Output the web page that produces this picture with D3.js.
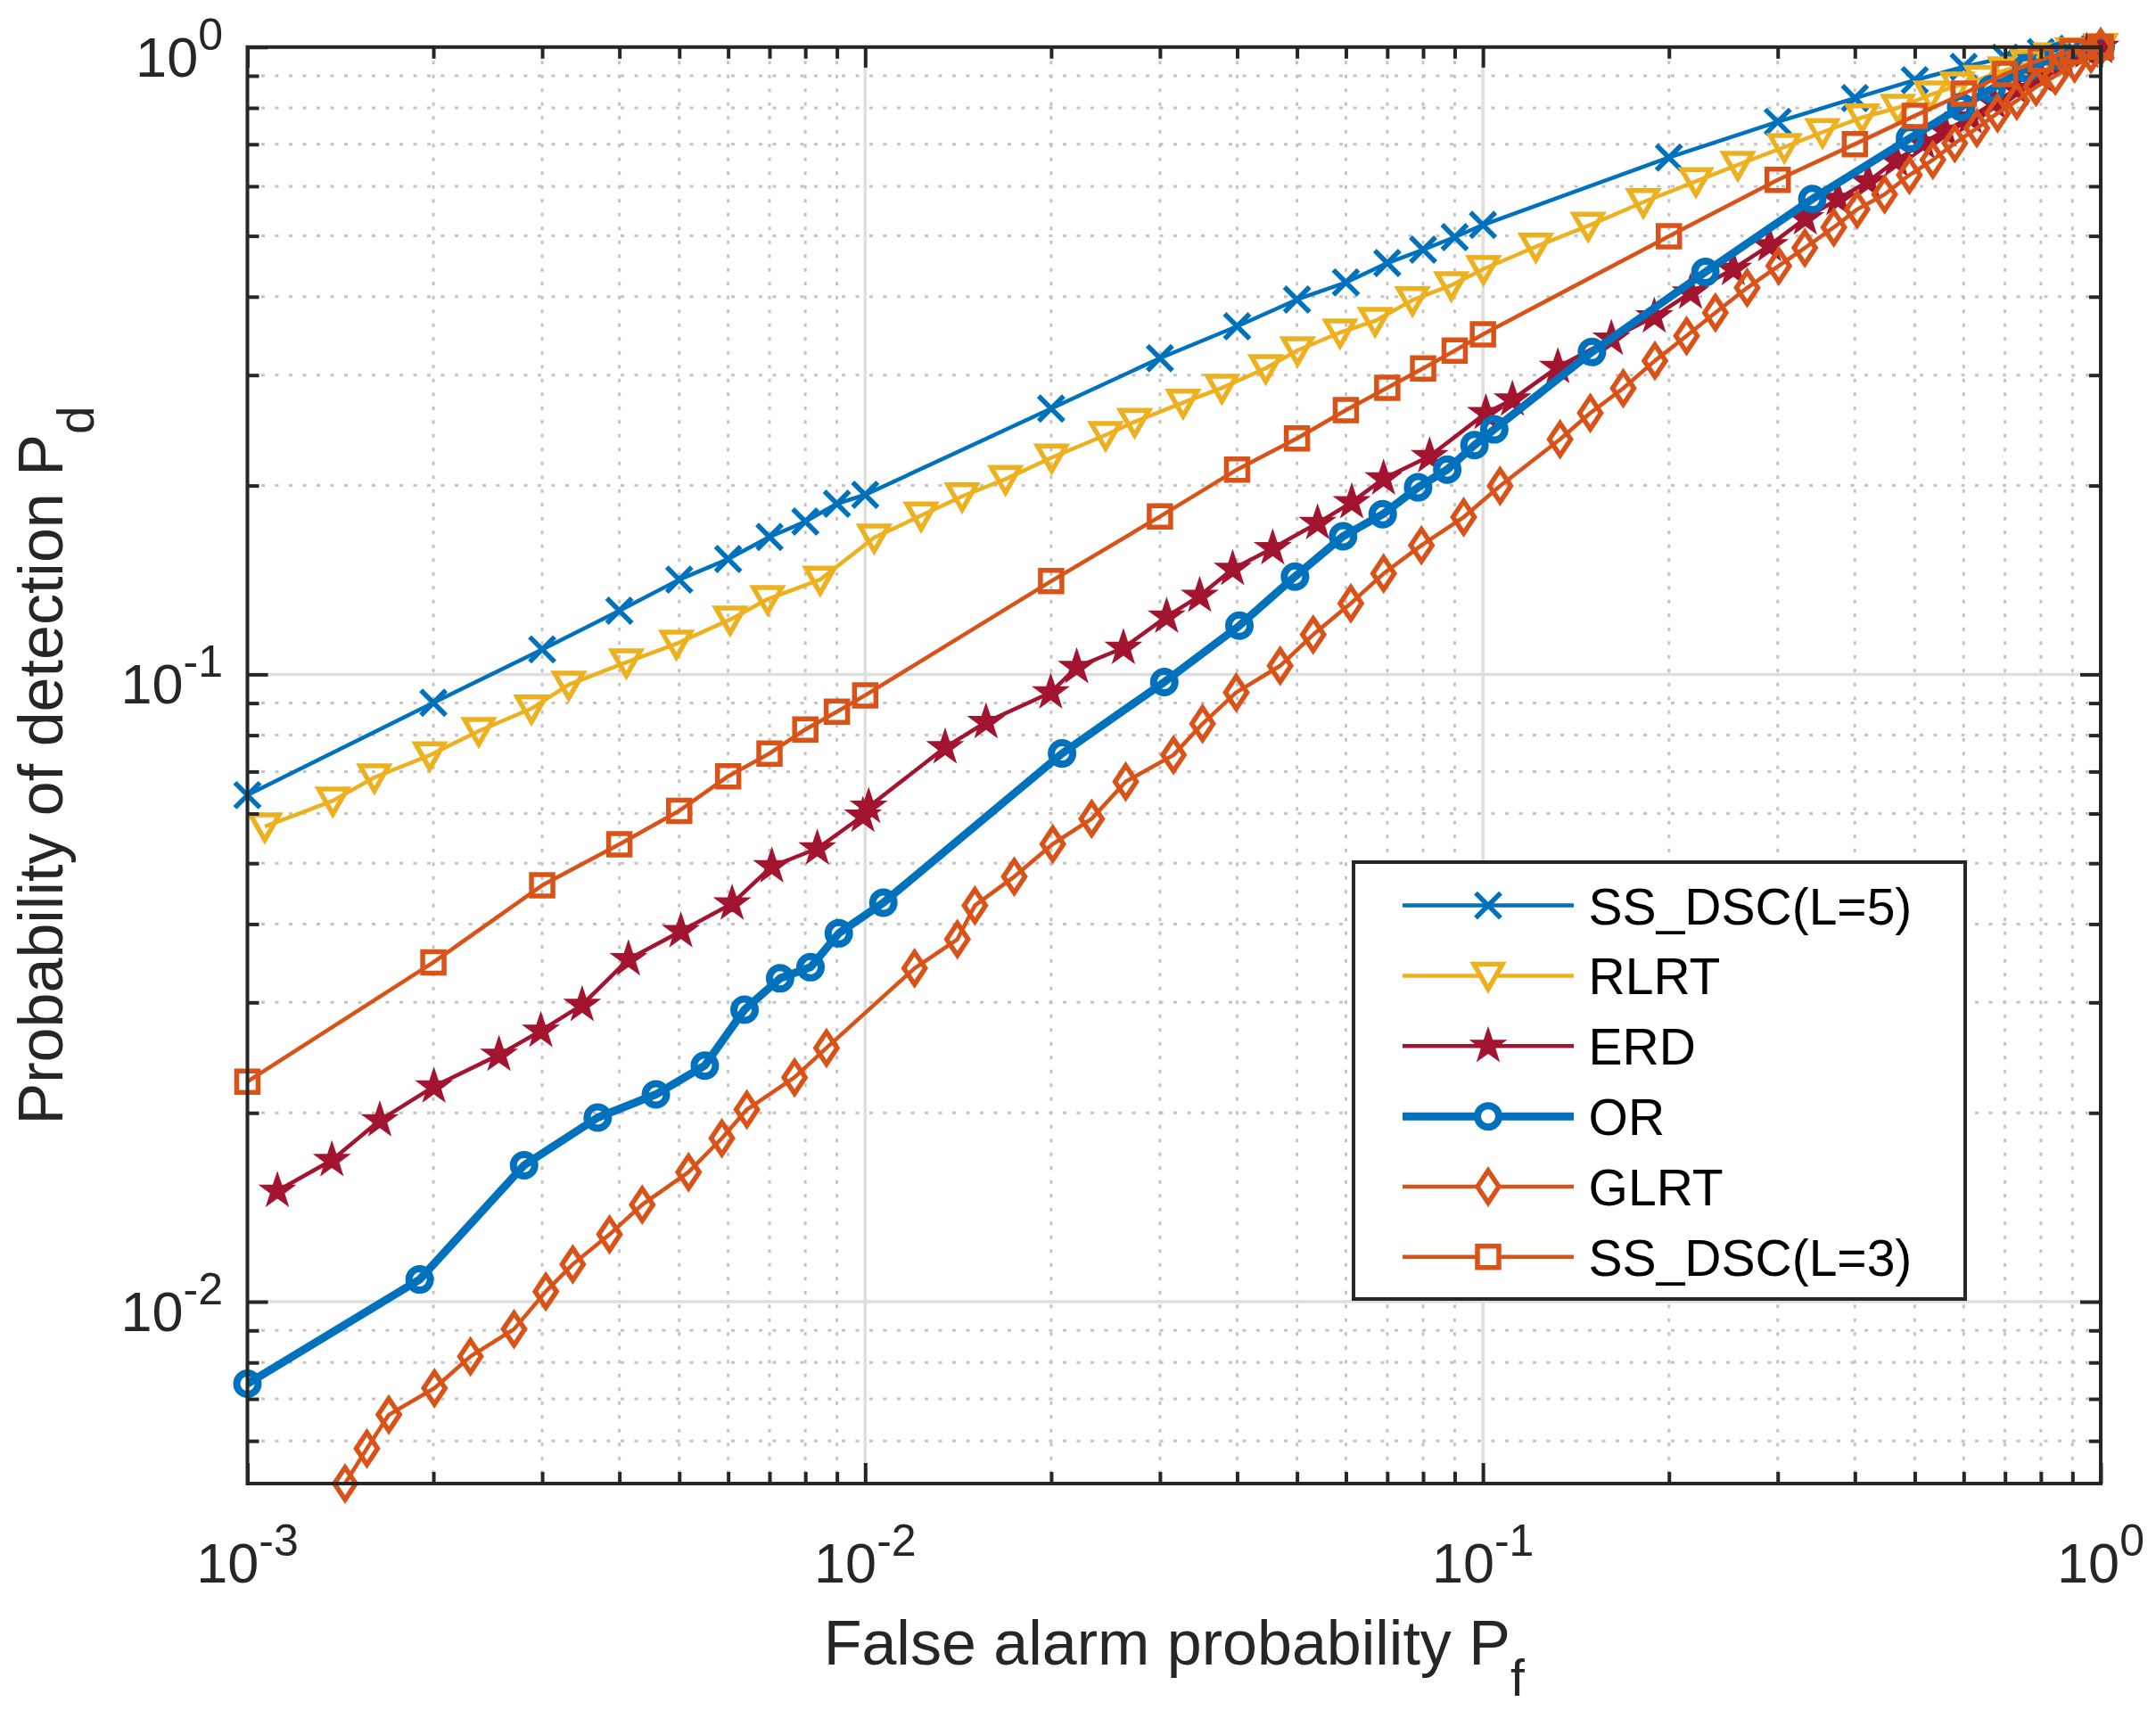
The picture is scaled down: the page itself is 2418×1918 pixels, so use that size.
<!DOCTYPE html>
<html>
<head>
<meta charset="utf-8">
<script src="https://cdn.jsdelivr.net/npm/d3@7"></script>
<style>
body { margin: 0; background: #fff; }
svg text { font-family: "Liberation Sans", Arial, Helvetica, sans-serif; }
</style>
</head>
<body>
<div id="chart"></div>
<script>
// ---- data ----
var seriesNames = ["SS_DSC(L=5)", "RLRT", "ERD", "OR", "GLRT", "SS_DSC(L=3)"];

// SS_DSC curves share the same Pf grid
var pfGrid = [0.001, 0.002, 0.003, 0.004, 0.005, 0.006, 0.007, 0.008, 0.009,
              0.01, 0.02, 0.03, 0.04, 0.05, 0.06, 0.07, 0.08, 0.09,
              0.1, 0.2, 0.3, 0.4, 0.5, 0.6, 0.7, 0.8, 0.9, 1];

var ss5Y = [0.0642, 0.0901, 0.1096, 0.1263, 0.1416, 0.1527, 0.1656, 0.1752, 0.1871,
            0.1933, 0.2653, 0.3192, 0.3588, 0.3959, 0.4215, 0.4526, 0.4754, 0.4977,
            0.5206, 0.6667, 0.76, 0.8292, 0.8855, 0.93, 0.962, 0.982, 0.994, 1];

var ss3Y = [0.02243, 0.03475, 0.0461, 0.0536, 0.0606, 0.0688, 0.0748, 0.0817, 0.0872,
            0.0926, 0.1408, 0.1785, 0.2121, 0.2378, 0.2638, 0.2862, 0.3074, 0.3281,
            0.3484, 0.4995, 0.6143, 0.7003, 0.777, 0.843, 0.906, 0.955, 0.985, 1];

var rlrtX = [0.001067, 0.001375, 0.001605, 0.001973, 0.002368, 0.002882, 0.003313, 0.004105,
             0.004948, 0.006044, 0.00695, 0.008456, 0.01034, 0.01232, 0.01435, 0.01687,
             0.02004, 0.0245, 0.0273, 0.0327, 0.0378, 0.0445, 0.0501, 0.0587, 0.0669,
             0.0769, 0.0889, 0.1002, 0.1218, 0.148, 0.1818, 0.2212, 0.2586, 0.3075,
             0.3545, 0.4109, 0.4695, 0.531, 0.586, 0.64, 0.70, 0.76, 0.83, 0.90, 1];
var rlrtY = [0.0572, 0.0629, 0.0685, 0.0743, 0.0812, 0.0882, 0.0963, 0.1045,
             0.1119, 0.1223, 0.1318, 0.1416, 0.1652, 0.1791, 0.1922, 0.2048,
             0.2216, 0.2407, 0.2527, 0.2711, 0.2862, 0.3076, 0.3285, 0.3507, 0.366,
             0.395, 0.4172, 0.4428, 0.4806, 0.5188, 0.566, 0.611, 0.649, 0.6927,
             0.7317, 0.7724, 0.80, 0.84, 0.868, 0.89, 0.918, 0.942, 0.966, 0.985, 1];

var erdX = [0.001118, 0.00137, 0.001638, 0.002004, 0.002554, 0.002985, 0.003482, 0.004138,
            0.005031, 0.00609, 0.007062, 0.008365, 0.009915, 0.01013, 0.01347, 0.01569,
            0.01997, 0.022, 0.02618, 0.03076, 0.03479, 0.03934, 0.04567, 0.05399,
            0.06132, 0.06904, 0.08197, 0.1011, 0.1116, 0.1322, 0.1614, 0.1894, 0.2168,
            0.2542, 0.2911, 0.3325, 0.3756, 0.4203, 0.4666, 0.5159, 0.5595, 0.6152,
            0.6711, 0.732, 0.7985, 0.8707, 0.9493, 1];
var erdY = [0.01502, 0.01681, 0.01946, 0.02203, 0.02475, 0.02703, 0.02972, 0.03515,
            0.03895, 0.04312, 0.04943, 0.05277, 0.05951, 0.06149, 0.07649, 0.08392,
            0.09358, 0.1027, 0.1102, 0.1236, 0.1334, 0.1472, 0.1589, 0.1742,
            0.1881, 0.2052, 0.2227, 0.2609, 0.2742, 0.309, 0.3428, 0.372, 0.4059,
            0.4428, 0.4831, 0.5331, 0.5725, 0.6108, 0.6597, 0.704, 0.7355, 0.7724,
            0.8157, 0.8567, 0.9, 0.94, 0.983, 1];

var orX = [0.001, 0.0019, 0.002804, 0.00369, 0.004583, 0.0055, 0.006378, 0.007282,
           0.008156, 0.009062, 0.0107, 0.02083, 0.03049, 0.04034, 0.04963, 0.05937,
           0.06882, 0.07853, 0.08754, 0.09689, 0.1043, 0.1501, 0.2291, 0.3413,
           0.4912, 0.5943, 0.6653, 0.758, 0.8554, 1];
var orY = [0.0074, 0.01085, 0.0165, 0.01966, 0.0214, 0.02379, 0.02921, 0.03277,
           0.03414, 0.03866, 0.04325, 0.07481, 0.09723, 0.1196, 0.1432, 0.166,
           0.18, 0.1987, 0.2121, 0.232, 0.2458, 0.3265, 0.438, 0.5725,
           0.7157, 0.8026, 0.857, 0.925, 0.967, 1];

var glrtX = [0.001439, 0.001561, 0.001694, 0.002008, 0.002296, 0.002701, 0.003041, 0.003362,
             0.003856, 0.004356, 0.005177, 0.005861, 0.006433, 0.007686, 0.008656, 0.01202,
             0.0141, 0.01505, 0.01743, 0.02012, 0.02326, 0.02641, 0.03155, 0.03516,
             0.03987, 0.04696, 0.05311, 0.06112, 0.06905, 0.07951, 0.09307, 0.1066,
             0.1333, 0.1492, 0.1687, 0.1898, 0.2136, 0.2378, 0.2677, 0.3012, 0.3319,
             0.3698, 0.4034, 0.4469, 0.4901, 0.5349, 0.5805, 0.6302, 0.6808, 0.7314,
             0.7858, 0.8444, 0.9072, 0.9647, 1];
var glrtY = [0.00513, 0.005834, 0.006604, 0.00728, 0.00818, 0.00904, 0.01038, 0.01147,
             0.0128, 0.01428, 0.01609, 0.01822, 0.02024, 0.02278, 0.02538, 0.034,
             0.03782, 0.04281, 0.04759, 0.05364, 0.05886, 0.06745, 0.07438, 0.08342,
             0.09358, 0.1032, 0.1157, 0.1298, 0.1448, 0.1606, 0.1781, 0.1997,
             0.237, 0.261, 0.2858, 0.3162, 0.3463, 0.3773, 0.4133, 0.448, 0.4784,
             0.5161, 0.5511, 0.5824, 0.6253, 0.661, 0.7026, 0.7423, 0.7846, 0.8212,
             0.8637, 0.8995, 0.9412, 0.975, 1];

var xTickVals = [0.001, 0.01, 0.1, 1];
var xTickExp = ["-3", "-2", "-1", "0"];
var yTickVals = [0.01, 0.1, 1];
var yTickExp = ["-2", "-1", "0"];
var xDomain = [0.001, 1];
var yDomain = [0.00513, 1];

// ---- layout ----
var margin = {top: 52.8, right: 62, bottom: 254, left: 277.5};
var width = 2418 - margin.left - margin.right,
    height = 1918 - margin.top - margin.bottom;

var axisColor = "#262626";

var svg = d3.select("#chart")
    .append("svg")
    .attr("width", 2418)
    .attr("height", 1918)
    .style("background", "#fff")
    .append("g")
    .attr("transform", "translate(" + margin.left + "," + margin.top + ")");

var x = d3.scaleLog().domain(xDomain).range([0, width]);
var y = d3.scaleLog().domain(yDomain).range([height, 0]);

var isMajor = function(v){
    var l = Math.log10(v);
    return Math.abs(l - Math.round(l)) < 1e-6;
};
var xMinor = x.ticks().filter(function(d){ return !isMajor(d); });
var yMinor = y.ticks().filter(function(d){ return !isMajor(d); });

// grid: minor dotted, major solid
var grid = svg.append("g").attr("class", "grid");
grid.selectAll(".xminor").data(xMinor).enter().append("line")
    .attr("x1", function(d){ return x(d); }).attr("x2", function(d){ return x(d); })
    .attr("y1", 0).attr("y2", height)
    .attr("stroke", "#c4c4c4").attr("stroke-width", 3).attr("stroke-dasharray", "4,11.5");
grid.selectAll(".yminor").data(yMinor).enter().append("line")
    .attr("y1", function(d){ return y(d); }).attr("y2", function(d){ return y(d); })
    .attr("x1", 0).attr("x2", width)
    .attr("stroke", "#c4c4c4").attr("stroke-width", 3).attr("stroke-dasharray", "4,11.5");
grid.selectAll(".xmajor").data(xTickVals).enter().append("line")
    .attr("x1", function(d){ return x(d); }).attr("x2", function(d){ return x(d); })
    .attr("y1", 0).attr("y2", height)
    .attr("stroke", "#dedede").attr("stroke-width", 3.5);
grid.selectAll(".ymajor").data(yTickVals).enter().append("line")
    .attr("y1", function(d){ return y(d); }).attr("y2", function(d){ return y(d); })
    .attr("x1", 0).attr("x2", width)
    .attr("stroke", "#dedede").attr("stroke-width", 3.5);

// ---- markers ----
var starPath = (function(){
    var R = 17, r = 6.6, pts = [];
    for (var i = 0; i < 10; i++) {
        var a = -Math.PI / 2 + i * Math.PI / 5;
        var rr = i % 2 === 0 ? R : r;
        pts.push([rr * Math.cos(a), rr * Math.sin(a)]);
    }
    return "M" + pts.map(function(p){ return p[0].toFixed(2) + "," + p[1].toFixed(2); }).join("L") + "Z";
})();

var markerShapes = {
    cross: "M-14,-14L14,14M-14,14L14,-14",
    triangle: "M-16,-13L16,-13L0,15Z",
    star: starPath,
    circle: "M-12,0A12,12 0 1,0 12,0A12,12 0 1,0 -12,0Z",
    diamond: "M0,-18L12,0L0,18L-12,0Z",
    square: "M-12,-12H12V12H-12Z"
};

var series = [
    {name: seriesNames[0], xs: pfGrid, ys: ss5Y,  color: "#0072BD", lw: 4.5, mw: 5.5, marker: "cross",    fill: "none"},
    {name: seriesNames[1], xs: rlrtX,  ys: rlrtY, color: "#EDB120", lw: 4.5, mw: 5.5, marker: "triangle", fill: "none"},
    {name: seriesNames[2], xs: erdX,   ys: erdY,  color: "#A2142F", lw: 4.5, mw: 3.5, marker: "star",     fill: "#A2142F"},
    {name: seriesNames[3], xs: orX,    ys: orY,   color: "#0072BD", lw: 9,   mw: 8,   marker: "circle",   fill: "none"},
    {name: seriesNames[4], xs: glrtX,  ys: glrtY, color: "#D95319", lw: 4.5, mw: 5.5, marker: "diamond",  fill: "none"},
    {name: seriesNames[5], xs: pfGrid, ys: ss3Y,  color: "#D95319", lw: 4.5, mw: 5.5, marker: "square",   fill: "none"}
];

svg.append("clipPath").attr("id", "plotclip")
    .append("rect").attr("width", width).attr("height", height);

var line = d3.line()
    .x(function(d){ return x(d[0]); })
    .y(function(d){ return y(d[1]); });

series.forEach(function(s){
    var pts = s.xs.map(function(v, i){ return [v, s.ys[i]]; });
    var g = svg.append("g").attr("class", "series");
    g.append("path")
        .datum(pts)
        .attr("d", line)
        .attr("fill", "none")
        .attr("stroke", s.color)
        .attr("stroke-width", s.lw)
        .attr("stroke-linejoin", "round")
        .attr("clip-path", "url(#plotclip)");
    g.selectAll(".mk").data(pts).enter().append("path")
        .attr("class", "mk")
        .attr("transform", function(d){ return "translate(" + x(d[0]) + "," + y(d[1]) + ")"; })
        .attr("d", markerShapes[s.marker])
        .attr("fill", s.fill)
        .attr("stroke", s.color)
        .attr("stroke-width", s.mw)
        .attr("stroke-linejoin", "miter");
});

// ---- axes box + ticks ----
var drawTicks = function(axisFn, scale, values, size, transform){
    svg.append("g")
        .attr("transform", transform)
        .call(axisFn(scale).tickValues(values).tickSize(-size).tickFormat(""))
        .call(function(g){ g.select(".domain").remove(); })
        .selectAll("line").attr("stroke", axisColor).attr("stroke-width", 4);
};
drawTicks(d3.axisBottom, x, xTickVals, 23, "translate(0," + height + ")");
drawTicks(d3.axisBottom, x, xMinor, 13, "translate(0," + height + ")");
drawTicks(d3.axisTop, x, xTickVals, 23, "translate(0,0)");
drawTicks(d3.axisTop, x, xMinor, 13, "translate(0,0)");
drawTicks(d3.axisLeft, y, yTickVals, 23, "translate(0,0)");
drawTicks(d3.axisLeft, y, yMinor, 13, "translate(0,0)");
drawTicks(d3.axisRight, y, yTickVals, 23, "translate(" + width + ",0)");
drawTicks(d3.axisRight, y, yMinor, 13, "translate(" + width + ",0)");

svg.append("rect")
    .attr("width", width).attr("height", height)
    .attr("fill", "none").attr("stroke", axisColor).attr("stroke-width", 4);

// tick labels 10^n
var xLab = svg.append("g").selectAll("text").data(xTickVals).enter().append("text")
    .attr("x", function(d){ return x(d); })
    .attr("y", height + 111)
    .attr("text-anchor", "middle")
    .attr("fill", axisColor);
xLab.append("tspan").attr("font-size", 63).text("10");
xLab.append("tspan").attr("font-size", 50).attr("dy", -30)
    .text(function(d, i){ return xTickExp[i]; });

var yLab = svg.append("g").selectAll("text").data(yTickVals).enter().append("text")
    .attr("x", -27.5)
    .attr("y", function(d){ return y(d) + 33; })
    .attr("text-anchor", "end")
    .attr("fill", axisColor);
yLab.append("tspan").attr("font-size", 63).text("10");
yLab.append("tspan").attr("font-size", 50).attr("dy", -30)
    .text(function(d, i){ return yTickExp[i]; });

// axis titles
var xTitle = svg.append("text")
    .attr("x", width / 2)
    .attr("y", 1867 - margin.top)
    .attr("text-anchor", "middle")
    .attr("fill", axisColor);
xTitle.append("tspan").attr("font-size", 70).text("False alarm probability P");
xTitle.append("tspan").attr("font-size", 57).attr("dy", 35).text("f");

var yTitle = svg.append("text")
    .attr("transform", "translate(" + (70 - margin.left) + "," + (height / 2) + ") rotate(-90)")
    .attr("text-anchor", "middle")
    .attr("fill", axisColor);
yTitle.append("tspan").attr("font-size", 70).text("Probability of detection P");
yTitle.append("tspan").attr("font-size", 57).attr("dy", 35).text("d");

// ---- legend ----
var legendX = 1518 - margin.left, legendY = 967 - margin.top;
var legendW = 686, legendH = 490, rowH = 78.85;

var legend = svg.append("g").attr("class", "legend")
    .attr("transform", "translate(" + legendX + "," + legendY + ")");
legend.append("rect")
    .attr("width", legendW).attr("height", legendH)
    .attr("fill", "#fff").attr("stroke", axisColor).attr("stroke-width", 4);

var rows = legend.selectAll(".row").data(series).enter().append("g")
    .attr("class", "row")
    .attr("transform", function(d, i){ return "translate(0," + (48.6 + i * rowH) + ")"; });
rows.append("line")
    .attr("x1", 55).attr("x2", 247).attr("y1", 0).attr("y2", 0)
    .attr("stroke", function(d){ return d.color; })
    .attr("stroke-width", function(d){ return d.lw; });
rows.append("path")
    .attr("transform", "translate(151,0)")
    .attr("d", function(d){ return markerShapes[d.marker]; })
    .attr("fill", function(d){ return d.fill === "none" ? "#fff" : d.fill; })
    .attr("stroke", function(d){ return d.color; })
    .attr("stroke-width", function(d){ return d.mw; });
rows.append("text")
    .attr("x", 263.6)
    .attr("y", 21)
    .attr("font-size", 57)
    .attr("fill", "#000")
    .text(function(d){ return d.name; });
</script>
</body>
</html>
